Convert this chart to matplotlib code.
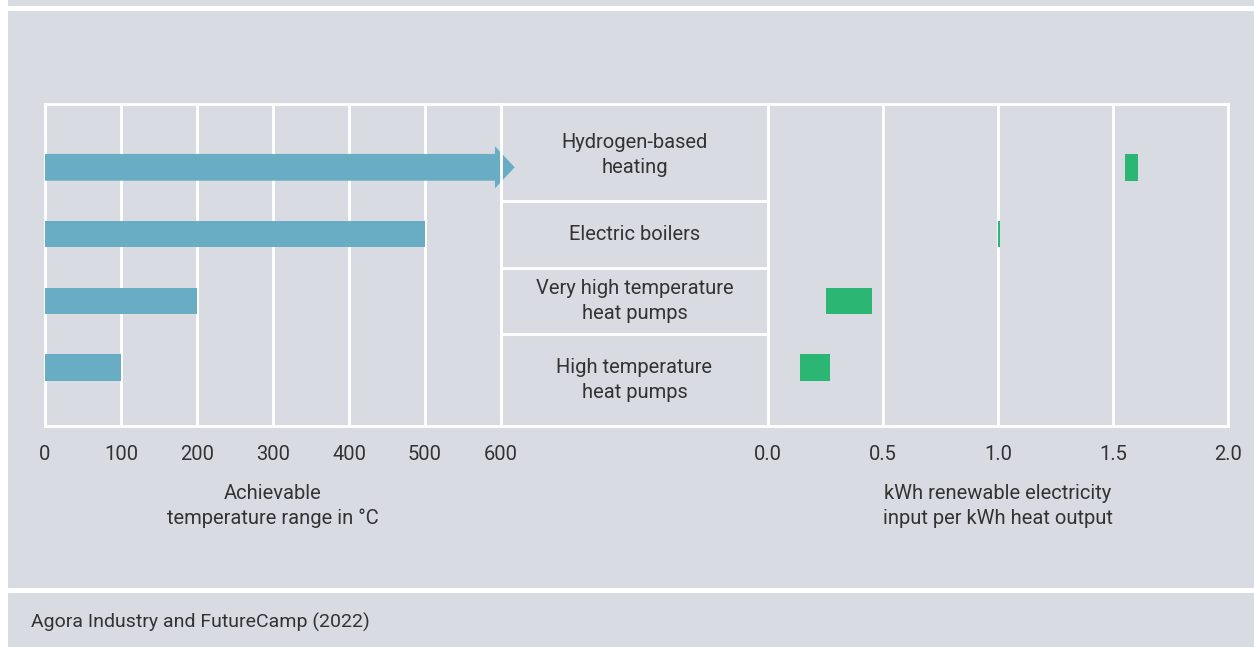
import matplotlib
matplotlib.use("Agg")
import matplotlib.pyplot as plt
from matplotlib.patches import Rectangle

# ---------------- data ----------------
categories = ["Hydrogen-based\nheating", "Electric boilers",
              "Very high temperature\nheat pumps", "High temperature\nheat pumps"]
temp_max = [600, 500, 200, 100]             # achievable temperature (°C)
elec_low = [1.55, 1.00, 0.25, 0.14]         # kWh el / kWh heat, lower bound
elec_high = [1.61, 1.01, 0.45, 0.27]        # upper bound
temp_ticks = [0, 100, 200, 300, 400, 500, 600]
elec_ticks = [0.0, 0.5, 1.0, 1.5, 2.0]
elec_tick_labels = ["0.0", "0.5", "1.0", "1.5", "2.0"]
xlabel_left = "Achievable\ntemperature range in °C"
xlabel_right = "kWh renewable electricity\ninput per kWh heat output"
source = "Agora Industry and FutureCamp (2022)"

# ---------------- style ----------------
W, H = 1254, 647
BG = "#d8dbe2"
BLUE = "#68adc4"
GREEN = "#2bb673"
TXT = "#333333"
FONT = ["Roboto", "DejaVu Sans"]
FS = 14.5
LS = 1.36
plt.rcParams["font.family"] = FONT

fig = plt.figure(figsize=(W / 100, H / 100), dpi=100, facecolor="white")

def frect(x0, y0, x1, y1):
    return [x0 / W, 1 - y1 / H, (x1 - x0) / W, (y1 - y0) / H]

for (x0, y0, x1, y1) in [(8, 0, W, 6), (8, 11, W, 588), (8, 593, W, H)]:
    r = frect(x0, y0, x1, y1)
    fig.patches.append(Rectangle((r[0], r[1]), r[2], r[3], transform=fig.transFigure,
                                 facecolor=BG, edgecolor="none", zorder=-5))

top, bottom = 104, 426
ax1 = fig.add_axes(frect(45, top, 501, bottom))
axm = fig.add_axes(frect(501, top, 768, bottom))
ax2 = fig.add_axes(frect(768, top, 1228, bottom))

n = len(categories)
ypos = list(range(n - 1, -1, -1))  # top to bottom
ylim = (-0.873, n - 1 + 0.948)
bar_h = 0.4

for ax in (ax1, axm, ax2):
    ax.set_facecolor("none")
    ax.set_ylim(*ylim)
    ax.set_yticks([])
    for s in ax.spines.values():
        s.set_color("white")
        s.set_linewidth(2)
    ax.set_axisbelow(True)

# left: temperature
ax1.set_xlim(temp_ticks[0], temp_ticks[-1])
ax1.set_xticks(temp_ticks)
ax1.set_xticklabels([str(t) for t in temp_ticks])
ax1.grid(axis="x", color="white", linewidth=2)
ax1.tick_params(axis="x", length=0, pad=14, labelsize=FS, labelcolor=TXT)
for i, (v, y) in enumerate(zip(temp_max, ypos)):
    if i == 0:
        ax1.arrow(0, y, v + 18, 0, width=bar_h, head_width=0.63, head_length=26,
                  length_includes_head=True, color=BLUE, linewidth=0, clip_on=False, zorder=3)
    else:
        ax1.barh(y, v, height=bar_h, color=BLUE, zorder=3)

# middle: labels
axm.set_xlim(0, 1)
axm.set_xticks([])
for k in range(n - 1):
    axm.axhline(k + 0.5, color="white", linewidth=2)
bounds = [ylim[0]] + [k + 0.5 for k in range(n - 1)] + [ylim[1]]
for lab, y in zip(categories, ypos):
    yc = (bounds[y] + bounds[y + 1]) / 2
    if y == n - 1:
        yc -= 0.04
    axm.text(0.5, yc, lab, ha="center", va="center", fontsize=FS, color=TXT,
             linespacing=LS)

# right: electricity
ax2.set_xlim(elec_ticks[0], elec_ticks[-1])
ax2.set_xticks(elec_ticks)
ax2.set_xticklabels(elec_tick_labels)
ax2.grid(axis="x", color="white", linewidth=2)
ax2.tick_params(axis="x", length=0, pad=14, labelsize=FS, labelcolor=TXT)
for lo, hi, y in zip(elec_low, elec_high, ypos):
    ax2.barh(y, hi - lo, left=lo, height=bar_h, color=GREEN, zorder=3)

fig.text(273 / W, 1 - 506 / H, xlabel_left, ha="center", va="center", fontsize=FS,
         color=TXT, linespacing=LS)
fig.text(998 / W, 1 - 506 / H, xlabel_right, ha="center", va="center", fontsize=FS,
         color=TXT, linespacing=LS)
fig.text(31 / W, 1 - 622 / H, source, ha="left", va="center", fontsize=14, color=TXT)

fig.savefig("out.png", dpi=100, facecolor="white")
